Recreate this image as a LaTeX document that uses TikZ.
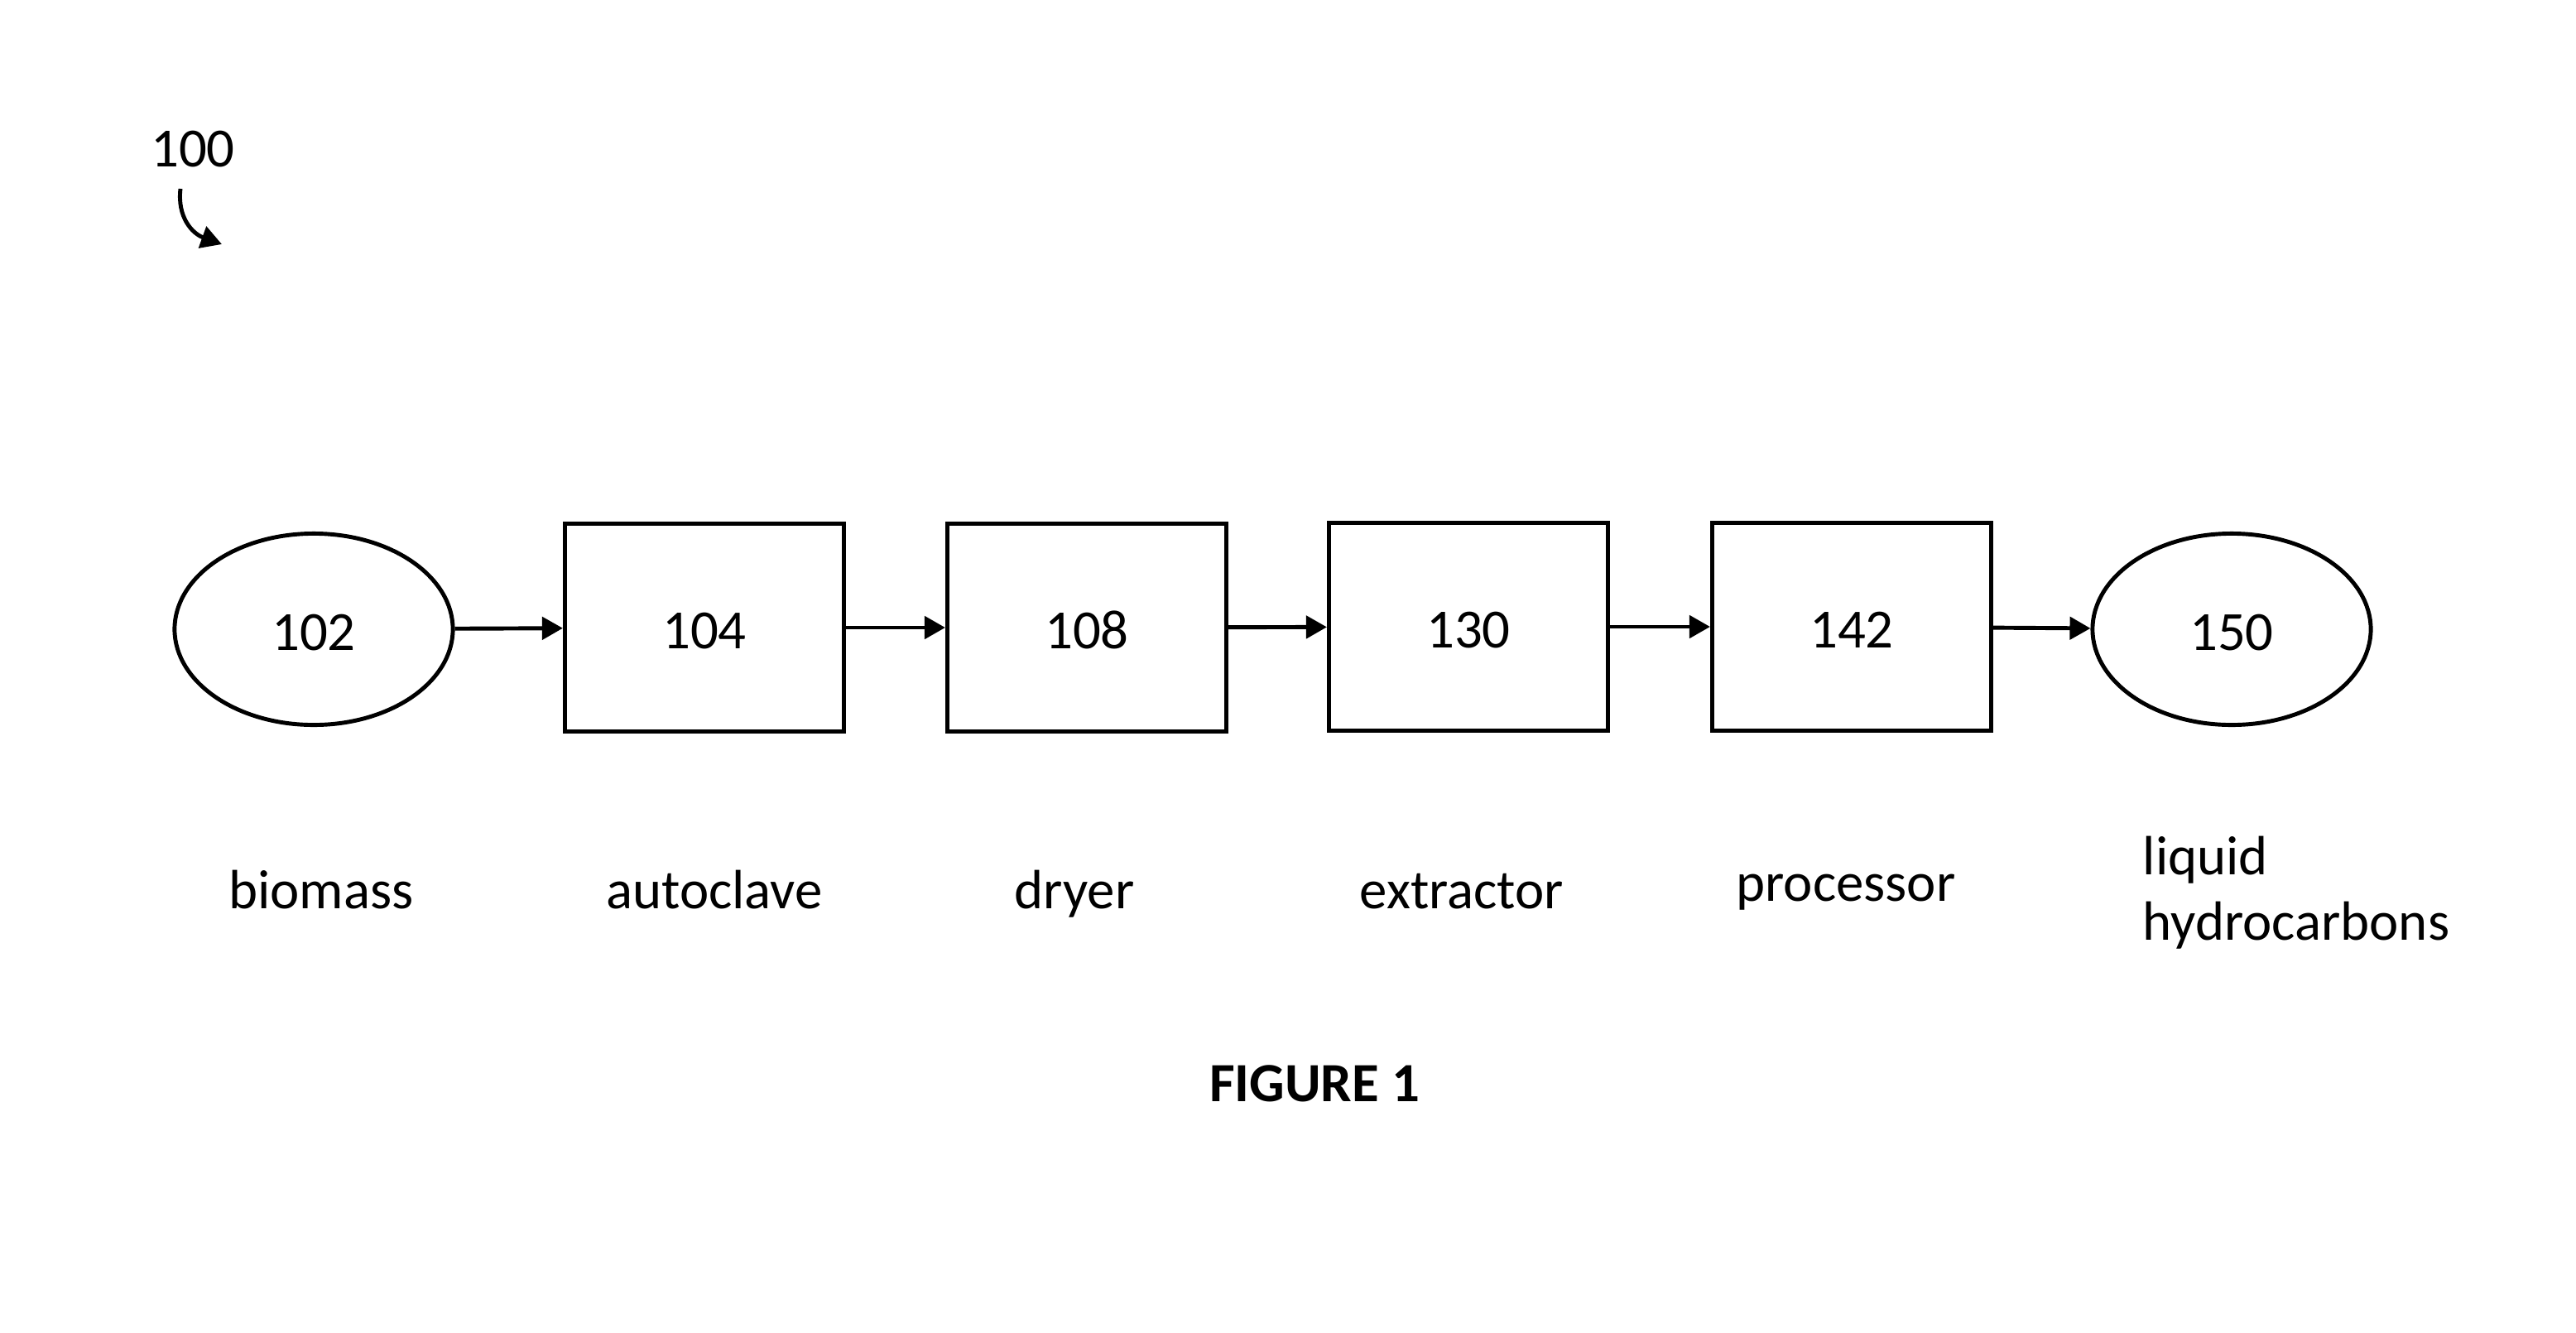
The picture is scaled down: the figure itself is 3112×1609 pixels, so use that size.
\documentclass[tikz,border=0pt]{standalone}
\usepackage{fontspec}
\setmainfont{Carlito}
\usetikzlibrary{arrows.meta,shapes.geometric}
\begin{document}
\begin{tikzpicture}[x=0.01cm,y=-0.01cm,font=\fontsize{19}{22.4}\selectfont,
  unit/.style={draw, line width=1.4pt, minimum width=3.37cm, minimum height=2.5cm, inner sep=0pt, text height=0.5cm, text depth=0pt},
  stream/.style={draw, ellipse, line width=1.4pt, minimum width=3.36cm, minimum height=2.31cm, inner sep=0pt, text height=0.5cm, text depth=0pt},
  tag/.style={anchor=base, inner sep=0pt},
  flow/.style={line width=1.4pt, -{Triangle[length=0.25cm,width=0.27cm]}}]
\useasboundingbox (0,0) rectangle (3112,1609);
\node[tag] (l100) at (233,201){100};
\coordinate (c100a) at (218,228);
\coordinate (c100b) at (268,295);
\draw[flow] (c100a) .. controls (214,262) and (232,282) .. (c100b);
\node[stream] (n102) at (379,760){102};
\node[unit] (n104) at (851,758){104};
\node[unit] (n108) at (1313,758){108};
\node[unit] (n130) at (1774,757){130};
\node[unit] (n142) at (2237,757){142};
\node[stream] (n150) at (2696,760){150};
\draw[flow] (n102) -- (n104);
\draw[flow] (n104) -- (n108);
\draw[flow] (n108) -- (n130);
\draw[flow] (n130) -- (n142);
\draw[flow] (n142) -- (n150);
\node[tag] (t102) at (388,1097){biomass};
\node[tag] (t104) at (863,1097){autoclave};
\node[tag] (t108) at (1298,1097){dryer};
\node[tag] (t130) at (1766,1097){extractor};
\node[tag] (t142) at (2230,1088){processor};
\node[tag, anchor=base west] (t150a) at (2588,1056){liquid};
\node[tag, anchor=base west] (t150b) at (2588,1135){hydrocarbons};
\node[tag, font=\fontsize{19}{22.4}\selectfont\bfseries] (fig) at (1588,1330){FIGURE 1};
\end{tikzpicture}
\end{document}
